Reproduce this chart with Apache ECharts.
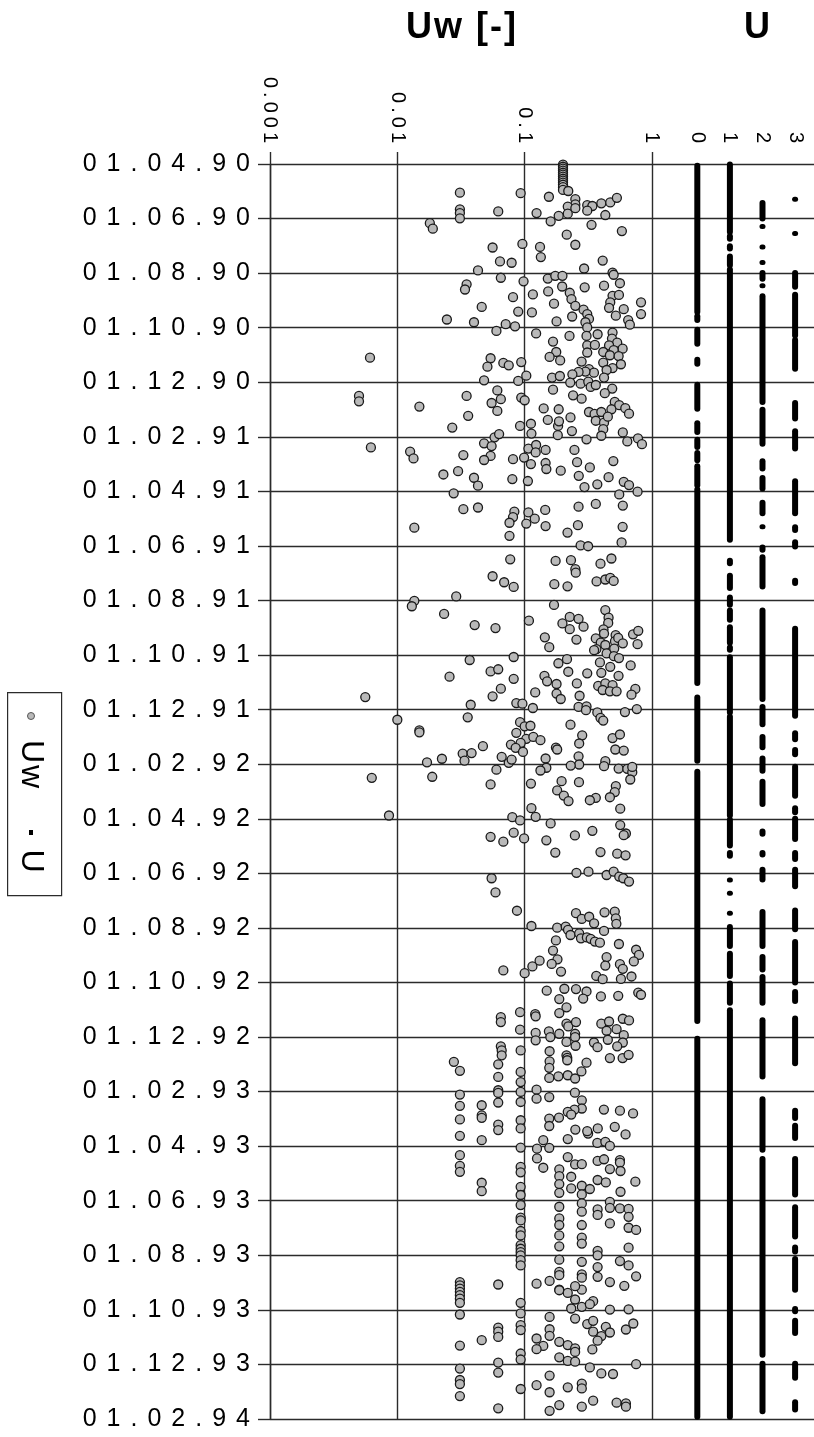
<!DOCTYPE html>
<html>
<head>
<meta charset="utf-8">
<script src="https://cdn.jsdelivr.net/npm/echarts@6/dist/echarts.min.js"></script>
<style>
  html, body { margin: 0; padding: 0; background: #fff; }
  #chart { width: 814px; height: 1437px; }
</style>
</head>
<body>
<div id="chart"></div>
<script>
// Time is measured in months since 01.04.90 (0 = 01.04.90, 46 = 01.02.94).
const DATE_TICKS = ['01.04.90','01.06.90','01.08.90','01.10.90','01.12.90','01.02.91',
  '01.04.91','01.06.91','01.08.91','01.10.91','01.12.91','01.02.92','01.04.92','01.06.92',
  '01.08.92','01.10.92','01.12.92','01.02.93','01.04.93','01.06.93','01.08.93','01.10.93',
  '01.12.93','01.02.94'];
const UW_TICK_LABELS = ['0.001', '0.01', '0.1', '1'];
const U_TICKS = [0, 1, 2, 3];

// Uw observations: [month, Uw]
const UW_APR_OCT_1990 = [
  [0.02,0.2],[0.1,0.2],[0.17,0.2],[0.24,0.2],[0.32,0.2],[0.39,0.2],[0.46,0.2],[0.54,0.2],[0.61,0.2],[0.68,0.2],[0.76,0.2],[0.85,0.2],[0.95,0.2],[0.99,0.22],
  [1.05,0.031],[1.07,0.093],[1.2,0.155],[1.29,0.25],[1.48,0.25],[1.66,0.031],[1.8,0.031],[1.99,0.031],[1.74,0.062],[1.8,0.124],[2.17,0.018],[2.37,0.019],
  [2.93,0.096],[3.04,0.132],[3.41,0.134],[3.06,0.056],[3.57,0.064],[3.62,0.079],[3.9,0.043],[4.17,0.065],[4.3,0.098],[4.41,0.035],[4.6,0.034],[5.24,0.046],
  [5.7,0.0245],[5.8,0.04],[5.87,0.071],[5.95,0.084],[4.88,0.081],[5.41,0.089],[4.78,0.116],[5.44,0.114],[4.67,0.153],[5.12,0.17],[5.77,0.178],
  [4.2,0.152],[4.1,0.174],[4.1,0.198],[4.49,0.197],[4.72,0.226],[4.95,0.233],[5.2,0.25],[5.59,0.236],[3.83,0.293],[4.52,0.296],[5.34,0.29],[5.5,0.31],
  [5.68,0.32],[5.8,0.3],[5.99,0.31],[3.54,0.41],[3.98,0.49],[4.06,0.5],[4.37,0.56],[4.46,0.42],[4.83,0.49],[4.8,0.55],[5.07,0.47],[5.27,0.46],[5.32,0.6],
  [5.56,0.52],[5.72,0.65],[5.89,0.67],[5.07,0.82],[5.5,0.82],[2.23,0.335],[2.46,0.58],[2.59,0.214],[2.96,0.25],[1.87,0.43],[1.44,0.4],[1.41,0.47],[1.24,0.53],
  [1.51,0.31],[1.54,0.34],[1.71,0.31],[1.56,0.218],[1.62,0.25],[1.82,0.218],[1.9,0.185],[2.1,0.16]
];
const UW_OCT1990_APR1991 = [
  [7.1,0.0061],[8.5,0.005],[8.7,0.005],[10.39,0.0062],[8.89,0.0149],[10.54,0.0126],[10.79,0.0134],
  [7.12,0.054],[7.43,0.051],[7.29,0.068],[7.38,0.075],[7.26,0.094],[7.93,0.048],[7.95,0.089],[7.76,0.103],
  [8.3,0.061],[8.62,0.065],[8.76,0.055],[9.05,0.061],[8.5,0.035],[9.23,0.036],[9.66,0.027],
  [8.56,0.094],[8.66,0.1],[9.6,0.092],[9.52,0.112],[9.88,0.113],
  [10.02,0.058],[9.9,0.063],[10.24,0.048],[10.34,0.055],[10.7,0.054],[10.85,0.048],[10.67,0.033],[11.38,0.023],[11.26,0.03],[11.5,0.04],[11.79,0.043],[12.07,0.0277],
  [10.82,0.081],[11.55,0.08],[10.76,0.099],[11.62,0.106],
  [10.43,0.107],[10.3,0.123],[10.48,0.146],[11.0,0.112],[10.96,0.146],[11.18,0.148],[10.57,0.122],[11.24,0.192],
  [6.51,0.167],[6.89,0.177],[7.07,0.157],[7.2,0.19],[7.83,0.164],[7.77,0.189],[8.27,0.167],
  [8.96,0.141],[8.99,0.185],[9.38,0.152],[9.6,0.183],[9.43,0.186],[9.29,0.229],[9.94,0.182],[9.79,0.235],[10.09,0.306],[10.48,0.246],
  [10.93,0.258],[11.43,0.266],[11.12,0.325],[11.84,0.295],[11.74,0.372],[11.48,0.456],[10.89,0.497],
  [11.65,0.6],[11.77,0.66],[12.01,0.77],[12.11,0.553],[12.52,0.59],[12.56,0.265],[12.46,0.362],[12.65,0.033],[12.59,0.043],
  [6.12,0.06],[6.21,0.123],[6.3,0.225],[6.3,0.306],[6.24,0.374],[6.18,0.49],
  [6.4,0.485],[6.55,0.533],[6.65,0.46],[6.77,0.588],[6.82,0.5],[6.65,0.31],[6.63,0.356],[6.91,0.31],[6.89,0.414],[7.01,0.467],[7.04,0.547],[7.24,0.28],
  [7.28,0.414],[7.34,0.57],[7.48,0.49],[7.55,0.44],[7.52,0.32],[7.65,0.35],[7.61,0.3],[7.62,0.265],[7.71,0.237],[7.83,0.42],[8.01,0.228],[8.05,0.275],
  [7.98,0.316],[8.17,0.33],[8.1,0.362],[8.23,0.487],[8.4,0.426],[8.48,0.24],[8.6,0.28],[8.72,0.51],[8.84,0.553],[8.95,0.617],[9.15,0.66],[8.99,0.48],
  [9.09,0.32],[9.16,0.354],[9.09,0.4],[9.41,0.362],[9.48,0.42],[9.26,0.45],[9.72,0.414],[9.96,0.4],[9.84,0.59],[10.17,0.64],[10.06,0.776],[10.27,0.834],
  [12.68,0.145],[12.74,0.083],[12.77,0.107]
];
const UW_APR_NOV_1991 = [
  [13.33,0.0136],[12.94,0.081],[13.15,0.076],[13.63,0.076],[13.18,0.103],[13.0,0.12],[13.27,0.146],[13.51,0.217],[13.24,0.262],[13.3,0.588],[13.87,0.577],
  [13.98,0.275],[14.01,0.315],[14.49,0.077],[15.11,0.056],[15.33,0.069],[15.5,0.082],
  [14.55,0.175],[14.52,0.231],[14.85,0.25],[14.98,0.252],[15.4,0.171],[15.48,0.217],
  [14.65,0.394],[14.46,0.48],[15.3,0.367],[15.23,0.43],[15.17,0.47],[15.28,0.5],
  [16.01,0.0136],[16.21,0.013],[15.85,0.029],[16.49,0.0233],[16.9,0.0405],[17.01,0.059],[16.16,0.17],[16.74,0.108],
  [16.84,0.198],[16.6,0.226],[16.67,0.265],[17.05,0.226],[16.96,0.29],[17.43,0.255],[17.35,0.144],[17.71,0.156],
  [16.35,0.43],[16.63,0.456],[16.82,0.453],[17.06,0.416],[17.21,0.42],[17.39,0.362],[17.54,0.396],[17.63,0.43],[17.78,0.366],[17.82,0.351],[17.94,0.44],
  [17.27,0.518],[17.49,0.512],[17.37,0.543],[17.57,0.59],[17.76,0.505],[18.04,0.502],[18.11,0.55],[17.24,0.71],[17.11,0.78],[17.6,0.77],
  [18.18,0.037],[18.79,0.0257],[18.6,0.054],[18.52,0.062],[18.07,0.082],[18.87,0.082],[19.23,0.065],
  [18.3,0.184],[18.15,0.215],[18.61,0.22],[18.67,0.31],[19.04,0.257],[18.76,0.143],[18.96,0.15],[19.06,0.178],
  [18.27,0.39],[18.43,0.47],[18.65,0.4],[18.76,0.546],[18.38,0.68],[19.13,0.378],[19.04,0.43],[19.28,0.41],[19.1,0.49],[19.24,0.74]
];
const UW_NOV1991_JUN1992 = [
  [19.54,0.0056],[20.37,0.01],[20.76,0.0149],[20.83,0.0149],[22.5,0.0063],[23.88,0.0086],
  [21.93,0.0171],[21.8,0.0224],[22.46,0.0188],[21.61,0.0326],[21.87,0.0337],[21.59,0.0383],[21.34,0.047],[19.82,0.0377],[20.28,0.0357],[19.51,0.056],
  [21.73,0.066],[21.95,0.075],[21.83,0.079],[22.2,0.06],[22.74,0.054],[19.76,0.086],[19.78,0.096],[19.94,0.116],
  [20.46,0.092],[20.61,0.1],[20.59,0.111],[20.85,0.086],[21.07,0.103],[21.0,0.117],[21.12,0.133],[21.22,0.093],[21.28,0.078],[21.4,0.085],[21.55,0.097],
  [19.37,0.121],[19.41,0.178],[19.61,0.192],[19.49,0.27],[19.33,0.467],[19.33,0.527],[19.45,0.69],
  [19.9,0.265],[19.88,0.306],[20.02,0.303],[20.1,0.372],[20.3,0.394],[20.4,0.414],[20.09,0.613],[19.98,0.76],
  [20.55,0.229],[20.94,0.283],[21.24,0.268],[21.39,0.176],[21.46,0.18],[21.79,0.146],[22.13,0.148],[22.23,0.133],[22.71,0.112],
  [21.71,0.265],[22.01,0.268],[22.05,0.23],[22.62,0.195],[22.66,0.267],[22.96,0.18],[23.15,0.203],[23.35,0.221],
  [21.04,0.49],[20.91,0.56],[21.46,0.515],[21.5,0.6],[21.89,0.43],[22.07,0.42],[22.16,0.547],[22.17,0.64],[22.29,0.7],[22.1,0.7],[22.56,0.675],
  [22.8,0.52],[23.02,0.51],[23.21,0.467],[23.23,0.362],[23.32,0.325],[23.63,0.563],
  [23.61,0.113],[23.93,0.122],[23.94,0.08],[24.06,0.092],[24.17,0.16],[24.51,0.082],[24.72,0.099],[24.66,0.054],[24.84,0.068],
  [24.79,0.148],[25.24,0.174],[24.61,0.248],[24.44,0.34],[24.23,0.563],[24.54,0.624],[24.6,0.6],[25.22,0.394],[25.28,0.533],[25.34,0.62]
];
const UW_JUN_DEC_1992 = [
  [25.98,0.255],[25.94,0.317],[26.06,0.44],[25.94,0.5],[26.12,0.553],[26.18,0.595],[26.3,0.66],
  [26.18,0.055],[26.7,0.059],[27.37,0.087],[27.93,0.113],
  [27.46,0.253],[27.67,0.281],[27.59,0.321],[27.83,0.351],[27.43,0.424],[27.4,0.51],[27.65,0.52],[27.85,0.525],
  [27.99,0.18],[27.95,0.21],[28.07,0.219],[28.26,0.229],[28.2,0.268],[28.38,0.277],[28.35,0.308],[28.4,0.33],[28.5,0.356],[28.54,0.39],[28.11,0.42],
  [28.46,0.176],[28.83,0.167],[29.15,0.181],[29.32,0.163],[29.6,0.193],[29.2,0.131],[29.41,0.115],[29.66,0.1],[29.56,0.068],
  [28.59,0.55],[28.8,0.75],[28.99,0.79],[29.23,0.72],[29.07,0.44],[29.38,0.43],[29.33,0.56],[29.5,0.59],[29.78,0.69],[29.87,0.57],[29.76,0.365],[29.88,0.41],
  [30.3,0.149],[30.23,0.205],[30.24,0.253],[30.33,0.306],[30.59,0.288],[30.51,0.397],[30.49,0.543],[30.61,0.187],[30.91,0.213],[31.12,0.187],[30.37,0.78],[30.45,0.82],
  [31.09,0.092],[31.16,0.121],[31.24,0.122],[31.27,0.065],[31.45,0.065],[31.73,0.092],
  [31.51,0.213],[31.61,0.22],[31.45,0.253],[31.51,0.4],[31.43,0.46],[31.33,0.59],[31.39,0.66],[31.77,0.44],[31.71,0.527],[31.93,0.6],
  [31.85,0.122],[32.12,0.122],[31.79,0.155],[32.0,0.159],[31.88,0.187],[31.88,0.249],[32.0,0.249],[32.18,0.213],[32.32,0.251],[32.2,0.35],[32.37,0.373],
  [32.1,0.45],[32.2,0.59],[32.34,0.533],[32.34,0.065]
];
const UW_DEC1992_JUL1993 = [
  [32.49,0.066],[32.67,0.066],[32.49,0.093],[32.52,0.157],[32.67,0.213],[32.77,0.467],[32.77,0.588],[32.65,0.655],[32.91,0.0278],[33.24,0.031],
  [33.0,0.062],[33.46,0.062],[33.95,0.062],[34.05,0.062],[34.4,0.062],[33.28,0.093],[33.65,0.093],[34.01,0.093],[34.38,0.093],
  [32.89,0.157],[33.13,0.156],[33.5,0.156],[32.76,0.216],[32.85,0.216],[33.44,0.184],[33.4,0.218],[33.52,0.249],[33.26,0.279],[32.94,0.306],
  [34.11,0.031],[34.52,0.031],[35.02,0.031],[35.62,0.031],[34.5,0.046],[34.87,0.046],[34.96,0.046],[35.78,0.046],[35.21,0.062],[35.41,0.062],
  [35.05,0.093],[35.35,0.093],[36.05,0.093],
  [33.93,0.124],[34.26,0.124],[34.2,0.156],[34.04,0.248],[34.32,0.281],[34.62,0.281],[34.66,0.246],[34.74,0.218],[34.84,0.232],[34.95,0.186],[34.99,0.156],[35.26,0.156],
  [34.66,0.419],[34.7,0.56],[34.8,0.71],[35.29,0.51],[35.57,0.62],[35.35,0.375],[35.54,0.315],[35.45,0.31],[35.39,0.25],[35.74,0.218],[35.88,0.372],[35.84,0.43],[35.99,0.467],
  [35.78,0.14],[36.09,0.125],[36.06,0.156],[36.45,0.125],[36.79,0.14],
  [36.4,0.218],[36.67,0.249],[36.66,0.281],[36.54,0.374],[36.48,0.42],[36.51,0.56],[36.6,0.56],[36.84,0.467],[36.91,0.566],
  [36.33,0.031],[36.72,0.031],[36.94,0.031],[37.34,0.046],[37.65,0.046],
  [36.76,0.093],[36.96,0.093],[37.49,0.093],[37.79,0.093],[38.16,0.093],[38.62,0.093],[38.72,0.093],[39.11,0.093],
  [36.85,0.187],[37.1,0.187],[37.39,0.187],[37.71,0.187],[38.22,0.187],[38.65,0.187],[38.89,0.187],
  [37.12,0.232],[37.55,0.232],[37.45,0.281],[37.77,0.281],[38.1,0.281],[38.4,0.281],[38.89,0.281],[37.57,0.325],
  [37.24,0.374],[37.33,0.434],[37.3,0.74],[37.67,0.566],
  [38.32,0.374],[38.52,0.374],[38.04,0.467],[38.26,0.467],[38.28,0.56],[38.3,0.655],[38.59,0.655],[38.83,0.467],[38.99,0.655],[39.07,0.75]
];
const UW_JUL1993_FEB1994 = [
  [39.27,0.093],[39.63,0.093],[39.76,0.093],[39.88,0.093],[40.0,0.093],[40.18,0.093],[40.37,0.093],
  [39.27,0.187],[39.67,0.187],[40.16,0.187],[40.61,0.187],[40.73,0.187],[41.26,0.187],
  [39.35,0.281],[39.57,0.281],[40.24,0.281],[40.7,0.281],[40.82,0.281],[41.26,0.281],
  [39.84,0.374],[40.0,0.374],[40.43,0.374],[40.79,0.374],
  [39.72,0.655],[40.37,0.655],[40.21,0.56],[40.77,0.75],[41.12,0.606],[40.98,0.467],
  [40.98,0.031],[41.1,0.031],[41.22,0.031],[41.34,0.031],[41.46,0.031],[41.59,0.031],[41.74,0.031],[42.17,0.031],[41.07,0.062],
  [41.04,0.124],[40.94,0.157],[41.28,0.187],[41.38,0.218],[41.13,0.249],[41.62,0.249],[41.89,0.281],[41.95,0.232],[41.68,0.345],[41.79,0.325],
  [41.74,0.093],[42.13,0.093],[42.56,0.093],[42.74,0.093],[42.26,0.157],[42.71,0.157],[42.95,0.157],
  [42.32,0.249],[42.52,0.31],[42.4,0.345],[42.8,0.345],[42.62,0.434],[42.83,0.467],[42.96,0.4],[43.13,0.374],[43.45,0.34],[42.72,0.624],[42.5,0.713],[41.99,0.467],[41.98,0.655],
  [42.65,0.062],[42.8,0.062],[42.99,0.062],[43.11,0.046],[43.31,0.031],
  [43.05,0.124],[43.32,0.14],[43.44,0.124],
  [43.17,0.187],[43.29,0.218],[43.41,0.249],[43.54,0.249],[43.74,0.187],[43.87,0.218],[43.9,0.249],
  [43.6,0.093],[43.82,0.093],[43.93,0.062],[44.3,0.062],
  [44.15,0.031],[44.57,0.031],[44.72,0.031],[45.16,0.031],
  [44.11,0.325],[44.33,0.4],[44.35,0.494],[43.99,0.75],
  [44.41,0.157],[45.02,0.157],[44.76,0.124],[44.84,0.218],[44.7,0.281],[44.88,0.281],[44.9,0.093],[45.61,0.062],
  [45.7,0.157],[45.49,0.187],[45.55,0.281],[45.33,0.345],[45.4,0.527],[45.43,0.624],[45.55,0.624]
];

// U class occurrence: periods [from month, to month] in which each class was recorded
const U0_RUNS = [[0.05,5.44],[5.56,5.74],[6.06,6.61],[7.16,7.34],[8.07,8.99],[9.48,9.84],[10.09,10.39],[10.57,10.88],
  [11.06,11.79],[11.91,19.04],[19.54,21.89],[22.26,31.43],[32.04,45.94]];
const U1_RUNS = [[0,2.51],[2.63,2.76],[3.0,3.12],[3.37,3.73],[3.85,13.79],[14.52,14.65],[15.07,15.56],[15.87,16.17],
  [16.35,16.72],[16.96,17.57],[17.7,17.82],[18.06,20.12],[20.24,23.9],[24.02,25.0],[25.24,25.37],[26.24,26.24],
  [26.73,26.73],[27.46,27.46],[27.95,28.68],[28.93,29.78],[30.02,30.76],[31.0,45.94]];
const U2_RUNS = [[1.41,2.02],[2.29,2.29],[3.04,3.04],[3.61,3.61],[3.98,4.22],[4.46,4.46],[4.83,8.74],[8.99,10.27],
  [10.88,11.18],[11.49,11.91],[12.4,12.82],[13.3,13.3],[14.04,14.16],[14.4,15.5],[16.35,19.63],[19.88,20.55],
  [20.98,21.4],[21.77,22.26],[22.62,23.48],[24.45,24.57],[25.24,25.33],[25.85,26.24],[27.4,28.68],[29.05,29.54],
  [29.78,30.76],[31.37,33.46],[34.26,36.15],[36.45,43.66],[43.96,45.73]];
const U3_RUNS = [[1.29,1.29],[2.55,2.55],[3.98,4.52],[4.77,6.3],[6.43,7.52],[8.74,9.35],[9.78,10.45],[11.61,12.82],
  [13.3,13.43],[13.85,14.04],[15.26,15.38],[17.02,20.24],[20.85,21.1],[21.46,21.65],[22.07,23.17],[23.6,23.78],
  [23.98,24.76],[25.24,25.49],[25.85,26.49],[27.34,28.07],[28.5,30.02],[30.33,30.7],[31.3,32.98],[34.68,34.99],
  [35.23,35.72],[36.45,37.79],[38.22,39.33],[39.7,39.88],[40.12,41.28],[41.95,42.07],[42.38,42.87],[43.96,44.51],[45.37,45.67]];

// Letter spacing (px) keyed by font size, applied to canvas text
const TRACKING = { 25: 10, 20: 4, 36: 2, 32: 2 };
const nativeFillText = CanvasRenderingContext2D.prototype.fillText;
CanvasRenderingContext2D.prototype.fillText = function (text, x, y, maxWidth) {
  const m = /(\d+(?:\.\d+)?)px/.exec(this.font || '');
  const sp = m && TRACKING[m[1]] ? TRACKING[m[1]] : 0;
  this.letterSpacing = sp + 'px';
  return maxWidth === undefined
    ? nativeFillText.call(this, text, x, y)
    : nativeFillText.call(this, text, x, y, maxWidth);
};

const FONT = 'Liberation Sans, Arial, sans-serif';
const LINE = '#2b2b2b';

const uwData = [].concat(UW_APR_OCT_1990, UW_OCT1990_APR1991, UW_APR_NOV_1991, UW_NOV1991_JUN1992,
  UW_JUN_DEC_1992, UW_DEC1992_JUL1993, UW_JUL1993_FEB1994).map(p => [p[1], p[0]]);

const uData = [];
[U0_RUNS, U1_RUNS, U2_RUNS, U3_RUNS].forEach((runs, u) => {
  runs.forEach(r => uData.push([U_TICKS[u], r[0], r[1]]));
});

const timeAxis = { type: 'value', inverse: true, min: 0, max: 46, interval: 2 };
const gridLine = { show: true, lineStyle: { color: LINE, width: 1.4 } };
const titleStyle = { fontFamily: FONT, fontWeight: 'bold', fontSize: 36, color: '#000' };

const chart = echarts.init(document.getElementById('chart'), null, { renderer: 'canvas' });
chart.setOption({
  backgroundColor: '#fff',
  animation: false,
  title: [
    { text: 'Uw [-]', left: 457, top: 5, textAlign: 'center', textStyle: titleStyle },
    { text: 'U', left: 753, top: 5, textAlign: 'center', textStyle: titleStyle }
  ],
  grid: [
    { left: 270, right: 162, top: 164, bottom: 18 },
    { left: 652, right: 0, top: 164, bottom: 18 }
  ],
  xAxis: [
    {
      type: 'log', gridIndex: 0, min: 0.001, max: 1, logBase: 10, position: 'top',
      axisLine: { show: false },
      axisTick: { show: true, length: 12, lineStyle: { color: LINE, width: 1.4 } },
      splitLine: gridLine,
      axisLabel: {
        rotate: -90, margin: 17, fontSize: 20, fontFamily: FONT, color: '#000',
        formatter: v => UW_TICK_LABELS[Math.round(Math.log10(v)) + 3]
      }
    },
    {
      type: 'value', gridIndex: 1, min: -1.39, max: 3.58, position: 'top',
      axisLine: { show: false }, axisTick: { show: false }, splitLine: { show: false },
      axisLabel: {
        customValues: U_TICKS, rotate: -90, margin: 17, fontSize: 20, fontFamily: FONT, color: '#000',
        formatter: v => String(v)
      }
    }
  ],
  yAxis: [
    Object.assign({}, timeAxis, {
      gridIndex: 0,
      axisLine: { show: true, lineStyle: { color: LINE, width: 1.4 } },
      axisTick: { show: true, length: 12, lineStyle: { color: LINE, width: 1.4 } },
      splitLine: gridLine,
      axisLabel: {
        margin: 10, fontSize: 25, fontFamily: FONT, color: '#000',
        formatter: v => DATE_TICKS[Math.round(v / 2)]
      }
    }),
    Object.assign({}, timeAxis, {
      gridIndex: 1,
      axisLine: { show: false }, axisTick: { show: false },
      splitLine: gridLine,
      axisLabel: { show: false }
    })
  ],
  series: [
    {
      name: 'Uw', type: 'scatter', xAxisIndex: 0, yAxisIndex: 0,
      data: uwData, symbol: 'circle', symbolSize: 9,
      itemStyle: { color: '#b9b9b9', borderColor: '#1a1a1a', borderWidth: 1.3, opacity: 1 }
    },
    {
      name: 'U', type: 'custom', xAxisIndex: 1, yAxisIndex: 1,
      data: uData, encode: { x: 0, y: [1, 2] },
      renderItem: (params, api) => {
        const a = api.coord([api.value(0), api.value(1)]);
        const b = api.coord([api.value(0), api.value(2)]);
        return {
          type: 'rect',
          shape: { x: a[0] - 3, y: a[1] - 2.5, width: 6, height: b[1] - a[1] + 5, r: 3 },
          style: { fill: '#000' }
        };
      }
    }
  ],
  graphic: [
    { type: 'rect', left: 7, top: 692, shape: { width: 54, height: 203 },
      style: { fill: '#fff', stroke: LINE, lineWidth: 1.2 } },
    { type: 'circle', x: 31, y: 716, shape: { r: 3.5 },
      style: { fill: '#b9b9b9', stroke: '#555', lineWidth: 1 } },
    { type: 'text', x: 31, y: 765, rotation: -Math.PI / 2,
      style: { text: 'Uw', font: '32px ' + FONT, fill: '#000', align: 'center', verticalAlign: 'middle' } },
    { type: 'rect', x: 29, y: 830, shape: { width: 4, height: 5 }, style: { fill: '#000' } },
    { type: 'text', x: 31, y: 862, rotation: -Math.PI / 2,
      style: { text: 'U', font: '32px ' + FONT, fill: '#000', align: 'center', verticalAlign: 'middle' } }
  ]
});
</script>
</body>
</html>
